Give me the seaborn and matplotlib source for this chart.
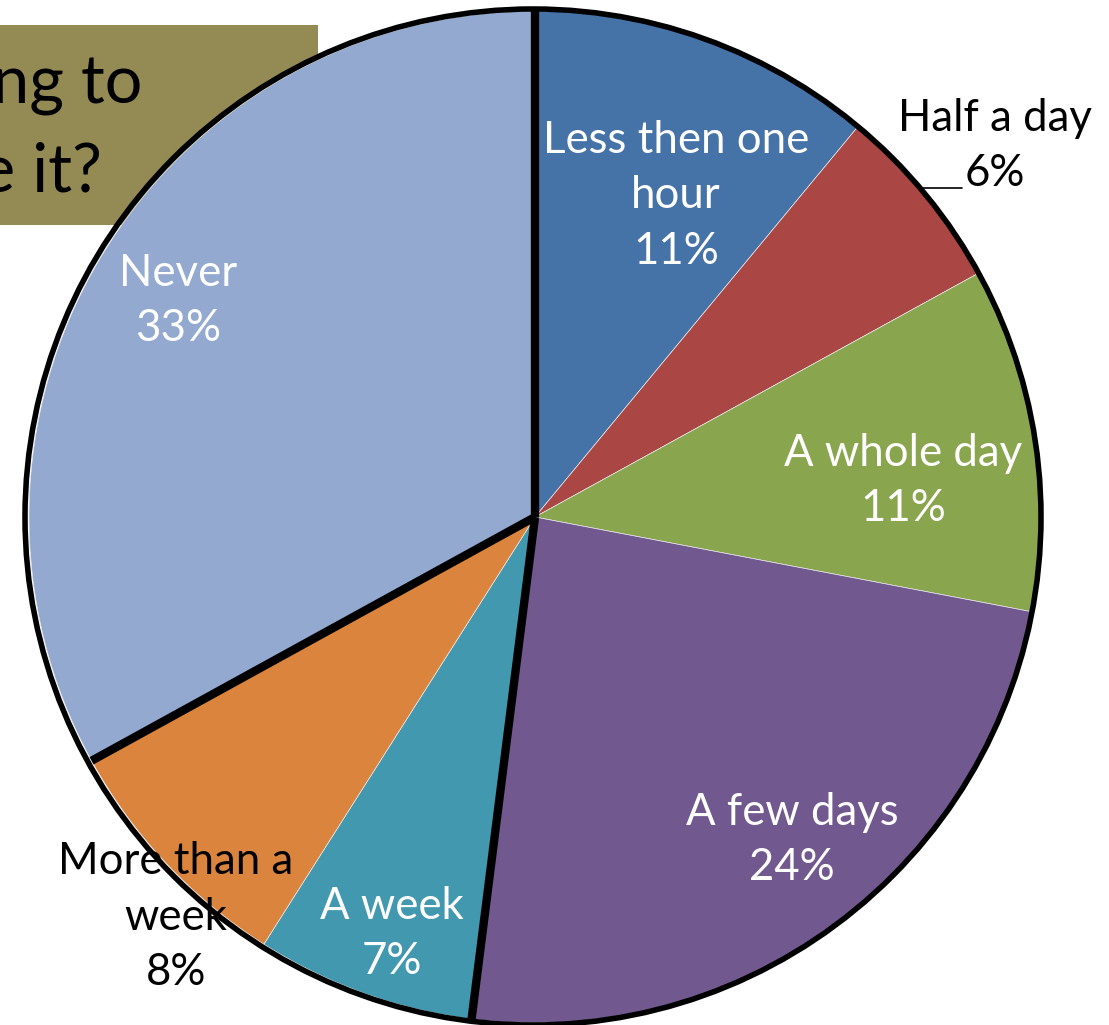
import numpy as np
import matplotlib
matplotlib.use("Agg")
import matplotlib.pyplot as plt
from matplotlib.patches import Rectangle, Circle
import seaborn as sns

# ---- data ----
categories = ["Less then one\nhour", "Half a day", "A whole day", "A few days",
              "A week", "More than a\nweek", "Never"]
shares = [11, 6, 11, 24, 7, 8, 33]
colors = ["#4572A7", "#AA4643", "#89A54E", "#71588F", "#4198AF", "#DB843D", "#93A9CF"]
title_lines = ["ng to", "e it?"]

sns.set_theme(style="white")
plt.rcParams['font.family'] = ['Lato', 'DejaVu Sans']

W, H = 1109, 1025
fig = plt.figure(figsize=(W / 100, H / 100), dpi=100)
ax = fig.add_axes([0, 0, 1, 1])

def Y(y_img):
    return H - y_img

cx, cy, R = 535, Y(517), 506

# title box behind pie
ax.add_patch(Rectangle((0, Y(225)), 318, 200, facecolor="#948A54", edgecolor="none", zorder=0))
ax.text(142, Y(104), title_lines[0], ha="right", va="baseline", fontsize=48, color="black", zorder=1)
ax.text(102, Y(192), title_lines[1], ha="right", va="baseline", fontsize=48, color="black", zorder=1)

wedges, _ = ax.pie(shares, colors=colors, startangle=90, counterclock=False,
                   center=(cx, cy), radius=R,
                   wedgeprops=dict(edgecolor="#e8e8e8", linewidth=0.5))
for w in wedges:
    w.set_zorder(2)

# outline
ax.add_patch(Circle((cx - 2, cy), R + 2, fill=False, edgecolor="black", linewidth=4, zorder=4))

# thick separators at selected boundaries
cum = np.concatenate([[0], np.cumsum(shares)])
for idx in [0, 4, 6]:
    ang = np.deg2rad(90 - 360 * cum[idx] / sum(shares))
    ax.plot([cx, cx + R * np.cos(ang)], [cy, cy + R * np.sin(ang)],
            color="black", linewidth=6, solid_capstyle="butt", zorder=5)

# labels
label_pos = [(676, 196), (995, 146), (903, 481), (792, 840), (392, 934), (176, 917), (178, 301)]
label_col = ["white", "black", "white", "white", "white", "black", "white"]
for cat, s, (lx, ly), c in zip(categories, shares, label_pos, label_col):
    ax.text(lx, Y(ly), f"{cat}\n{s}%", ha="center", va="center", fontsize=31.5,
            color=c, linespacing=1.45, zorder=6)

# leader line for Half a day
ax.plot([922, 962], [Y(188), Y(188)], color="black", linewidth=1.2, zorder=6)

ax.set_xlim(0, W)
ax.set_ylim(0, H)
ax.set_aspect("auto")
ax.axis("off")

fig.savefig("out.png", dpi=100)
